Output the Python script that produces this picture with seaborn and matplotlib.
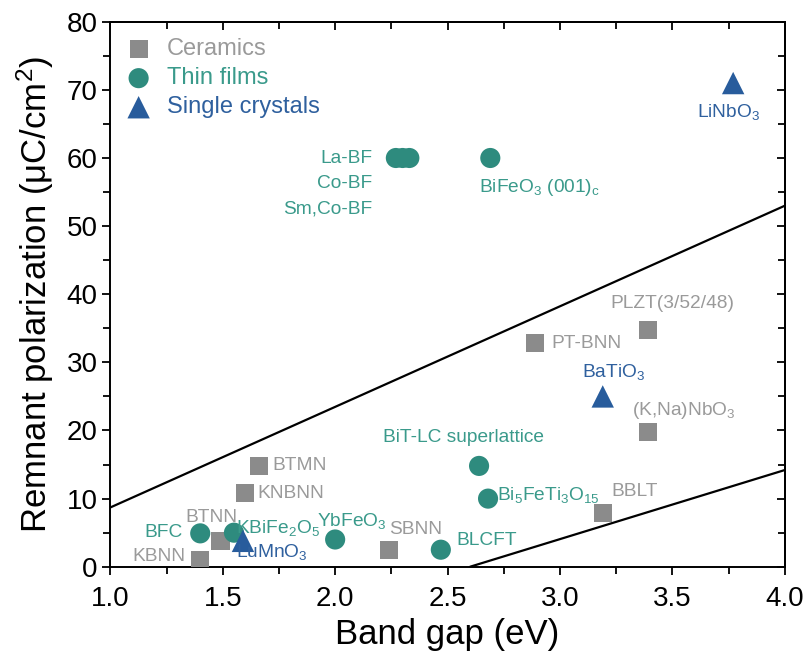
import matplotlib
matplotlib.use("Agg")
import matplotlib.pyplot as plt
import numpy as np
import pandas as pd
import seaborn as sns

sns.set_style("ticks")
plt.rcParams["font.family"] = ["Liberation Sans", "DejaVu Sans"]
plt.rcParams["mathtext.default"] = "regular"
plt.rcParams["text.color"] = "black"
plt.rcParams["axes.labelcolor"] = "black"

# ---- data -------------------------------------------------------------
ceramic_names = ["KBNN", "BTNN", "KNBNN", "BTMN", "SBNN", "PT-BNN",
                 "PLZT(3/52/48)", "(K,Na)NbO$_3$", "BBLT"]
ceramic_gap = [1.40, 1.49, 1.60, 1.66, 2.24, 2.89, 3.39, 3.39, 3.19]
ceramic_pr = [1.0, 3.8, 10.8, 14.8, 2.5, 32.8, 34.8, 19.8, 7.9]

film_names = ["BFC", "KBiFe$_2$O$_5$", "YbFeO$_3$", "BLCFT",
              "BiT-LC superlattice", "Bi$_5$FeTi$_3$O$_{15}$",
              "La-BF", "Co-BF", "Sm,Co-BF", "BiFeO$_3$ (001)$_c$"]
film_gap = [1.40, 1.55, 2.00, 2.47, 2.64, 2.68, 2.27, 2.30, 2.33, 2.69]
film_pr = [4.9, 5.0, 4.0, 2.5, 14.8, 10.0, 60.0, 60.0, 60.0, 60.0]

crystal_names = ["LuMnO$_3$", "BaTiO$_3$", "LiNbO$_3$"]
crystal_gap = [1.59, 3.19, 3.77]
crystal_pr = [3.8, 25.0, 71.0]

# guide lines bounding the region of interest
upper_line_x = [1.0, 4.0]
upper_line_y = [8.7, 53.0]
lower_line_x = [2.6, 4.0]
lower_line_y = [0.0, 14.2]

# label anchor positions (data coords) and alignment
ceramic_label_pos = [(1.10, 1.5, "left"), (1.335, 7.3, "left"), (1.655, 10.7, "left"),
                     (1.72, 14.8, "left"), (2.24, 5.4, "left"), (2.96, 32.8, "left"),
                     (3.50, 38.6, "center"), (3.55, 22.9, "center"), (3.23, 11.0, "left")]
film_label_pos = [(1.15, 5.0, "left"), (1.56, 5.7, "left"), (1.92, 6.7, "left"),
                  (2.54, 3.9, "left"), (2.57, 19.0, "center"), (2.72, 10.6, "left"),
                  (2.165, 59.9, "right"), (2.165, 56.2, "right"), (2.165, 52.5, "right"),
                  (2.91, 55.7, "center")]
crystal_label_pos = [(1.56, 2.2, "left"), (3.24, 28.6, "center"), (3.75, 66.8, "center")]

grey, grey_txt = "#8b8b8b", "#9a9a9a"
teal, teal_txt = "#2e8b7e", "#3a9a8b"
blue, blue_txt = "#285c9c", "#2f609e"

ceramics = pd.DataFrame({"gap": ceramic_gap, "pr": ceramic_pr})
films = pd.DataFrame({"gap": film_gap, "pr": film_pr})
crystals = pd.DataFrame({"gap": crystal_gap, "pr": crystal_pr})

# ---- figure -----------------------------------------------------------
fig, ax = plt.subplots(figsize=(8.05, 6.59), dpi=100)
fig.subplots_adjust(left=0.137, right=0.975, top=0.967, bottom=0.140)

ax.plot(upper_line_x, upper_line_y, color="black", lw=1.6, zorder=1)
ax.plot(lower_line_x, lower_line_y, color="black", lw=1.6, zorder=1)

sns.scatterplot(data=ceramics, x="gap", y="pr", marker="s", s=170, color=grey,
                edgecolor="none", label="Ceramics", ax=ax, zorder=3)
sns.scatterplot(data=films, x="gap", y="pr", marker="o", s=210, color=teal,
                edgecolor="none", label="Thin films", ax=ax, zorder=3)
sns.scatterplot(data=crystals, x="gap", y="pr", marker="^", s=260, color=blue,
                edgecolor="none", label="Single crystals", ax=ax, zorder=4)

for names, pos, col in [(ceramic_names, ceramic_label_pos, grey_txt),
                        (film_names, film_label_pos, teal_txt),
                        (crystal_names, crystal_label_pos, blue_txt)]:
    for name, (x, y, ha) in zip(names, pos):
        ax.text(x, y, name, color=col, fontsize=13.8, ha=ha, va="center", zorder=5)

# axes
ax.set_xlim(1.0, 4.0)
ax.set_ylim(0, 80)
ax.set_xticks(np.arange(1.0, 4.01, 0.5))
ax.set_xticks(np.arange(1.0, 4.01, 0.25), minor=True)
ax.set_yticks(np.arange(0, 81, 10))
ax.set_yticks(np.arange(0, 81, 5), minor=True)
ax.set_xticklabels([f"{v:.1f}" for v in np.arange(1.0, 4.01, 0.5)])
ax.tick_params(which="both", direction="out", width=1.3, colors="black", labelsize=20)
ax.tick_params(which="major", length=6)
ax.tick_params(which="minor", length=5)
ax.tick_params(axis="x", which="major", pad=8)
ax.tick_params(axis="y", which="major", pad=3)
ax.set_xlabel("Band gap (eV)", fontsize=25, labelpad=4, color="black")
ax.set_ylabel("Remnant polarization (μC/cm$^2$)", fontsize=25, labelpad=8, color="black")

for sp in ax.spines.values():
    sp.set_visible(True)
    sp.set_linewidth(1.4)
    sp.set_color("black")

# mirrored inward ticks on top and right
top = ax.secondary_xaxis("top")
top.set_xticks(np.arange(1.0, 4.01, 0.5))
top.set_xticks(np.arange(1.0, 4.01, 0.25), minor=True)
top.tick_params(which="both", direction="in", labeltop=False, width=1.3, colors="black")
top.tick_params(which="major", length=6)
top.tick_params(which="minor", length=5)
right = ax.secondary_yaxis("right")
right.set_yticks(np.arange(0, 81, 10))
right.set_yticks(np.arange(0, 81, 5), minor=True)
right.tick_params(which="both", direction="in", labelright=False, width=1.3, colors="black")
right.tick_params(which="major", length=6)
right.tick_params(which="minor", length=5)
for s in list(top.spines.values()) + list(right.spines.values()):
    s.set_linewidth(1.4)
    s.set_color("black")

leg = ax.legend(loc="upper left", frameon=False, fontsize=17, handletextpad=0.7,
                labelspacing=0.3, borderaxespad=0.3, handlelength=1.0,
                bbox_to_anchor=(0.0, 1.0))
for txt, col in zip(leg.get_texts(), [grey_txt, teal_txt, blue_txt]):
    txt.set_color(col)

fig.savefig("out.png", dpi=100)
